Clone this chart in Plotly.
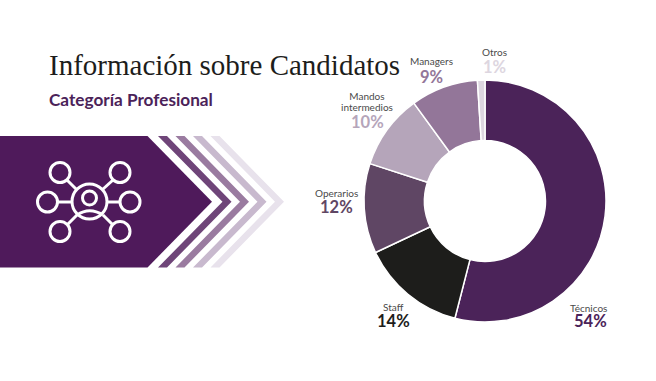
import plotly.graph_objects as go

categories = ["Técnicos", "Staff", "Operarios", "Mandos<br>intermedios", "Managers", "Otros"]
values = [54, 14, 12, 10, 9, 1]
colors = ["#4b2359", "#1d1d1b", "#5f4664", "#b5a5ba", "#937699", "#ddd6e0"]
label_pos = [(588, 307.5, 590, 321), (393, 306.5, 393, 321), (336, 192.5, 336, 207.5),
             (367, 102, 367, 122), (431, 61.5, 431, 77), (495, 52.5, 495, 67)]

W, H = 656, 381
PLUM = "#4f1a5b"
CHEV = [("#6f4579", 158), ("#9a7ba0", 175.5), ("#c8b9ce", 193), ("#e8e2ec", 210.5)]


def X(p):
    return p / W


def Y(p):
    return 1 - p / H


def path(points):
    return "M " + " L ".join(f"{X(a):.5f},{Y(b):.5f}" for a, b in points) + " Z"


def circle(cx, cy, r, width=3):
    return dict(type="circle", xref="paper", yref="paper", x0=X(cx - r), x1=X(cx + r),
                y0=Y(cy + r), y1=Y(cy - r), line=dict(color="white", width=width),
                layer="above")


def seg(a, b, c, d, width=3):
    return dict(type="line", xref="paper", yref="paper", x0=X(a), y0=Y(b), x1=X(c), y1=Y(d),
                line=dict(color="white", width=width), layer="above")


shapes = []
TOP, BOT, MID = 136, 267.5, 201.7
shapes.append(dict(type="path", xref="paper", yref="paper", line=dict(width=0), fillcolor=PLUM,
                   path=path([(0, TOP), (147.5, TOP), (212, MID), (147.5, BOT), (0, BOT)])))
for col, x0 in CHEV:
    w = 9
    tip = x0 + 64.5
    shapes.append(dict(type="path", xref="paper", yref="paper", line=dict(width=0), fillcolor=col,
                       path=path([(x0, TOP), (x0 + w, TOP), (tip + w, MID), (x0 + w, BOT), (x0, BOT),
                                  (tip, MID)])))

for cx, cy in [(60, 172.5), (120, 172.5), (47.5, 202), (130, 202), (60, 231.5), (120, 231.5)]:
    shapes.append(circle(cx, cy, 10))
shapes.append(circle(89.5, 201.5, 17.5))
shapes.append(circle(89.5, 198, 7))
for s in [(67, 180, 77, 190), (113, 180, 102, 190), (57.5, 202, 72, 202), (107, 202, 120, 202),
          (67, 225, 77, 215), (113, 225, 103, 215)]:
    shapes.append(seg(*s))
shapes.append(dict(type="path", xref="paper", yref="paper", layer="above",
                   line=dict(color="white", width=3),
                   path=f"M {X(77):.5f},{Y(215):.5f} Q {X(89.5):.5f},{Y(206.5):.5f} {X(103):.5f},{Y(215):.5f}"))

fig = go.Figure(go.Pie(
    labels=categories, values=values, hole=0.5, sort=False, direction="clockwise", rotation=0,
    marker=dict(colors=colors, line=dict(color="white", width=1.5)), textinfo="none", hoverinfo="label+percent",
    domain=dict(x=[X(364), X(606)], y=[Y(322), Y(80)]), showlegend=False,
))

ann = [dict(text="Información sobre Candidatos", x=X(46.5), y=Y(65), xanchor="left", yanchor="middle",
            showarrow=False, font=dict(family="Liberation Serif", size=29, color="#1d1d1b")),
       dict(text="<b>Categoría Profesional</b>", x=X(46.5), y=Y(99), xanchor="left", yanchor="middle",
            showarrow=False, font=dict(family="Lato", size=17.2, color="#4b2359"))]
for name, val, col, (lx, ly, px, py) in zip(categories, values, colors, label_pos):
    name_html = "<br>".join(f"<span style='font-size:10px'>{part}</span>" for part in name.split("<br>"))
    ann.append(dict(text=name_html, x=X(lx), y=Y(ly), xanchor="center", yanchor="middle", showarrow=False,
                    align="center", font=dict(family="Lato", size=8.5, color="#4a4a4a")))
    ann.append(dict(text=f"<b>{val}%</b>", x=X(px), y=Y(py), xanchor="center", yanchor="middle", showarrow=False,
                    font=dict(family="Lato", size=16.5, color=col)))
for a in ann:
    a.update(xref="paper", yref="paper")

fig.update_layout(width=W, height=H, margin=dict(l=0, r=0, t=0, b=0), paper_bgcolor="white",
                  plot_bgcolor="white", shapes=shapes, annotations=ann)
fig.write_html("out.html", config=dict(displayModeBar=False),
               post_script="document.body.style.margin='0';document.body.style.overflow='hidden';")
